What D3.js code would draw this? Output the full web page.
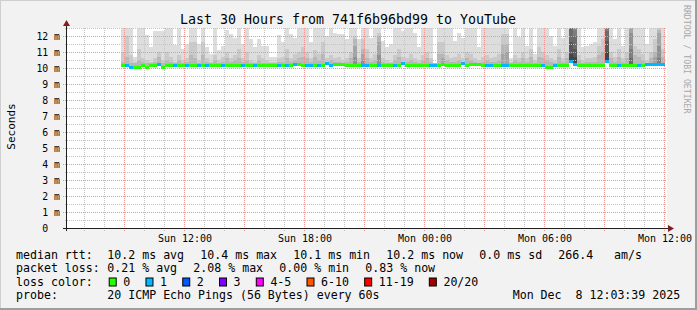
<!DOCTYPE html>
<html lang="en">
<head>
<meta charset="UTF-8">
<style>
  body { margin: 0; background: #f2f2f2; }
  svg { display: block; }
  text { font-family: "DejaVu Sans Mono", monospace; white-space: pre; }
</style>
</head>
<body>
<div id="chart"></div>
<script src="https://d3js.org/d3.v7.min.js"></script>
<script>

// ---- data (ms), one value per 12 minute column ----
var ping20 = [12.5,12.5,12.5,10.7,12.5,12.5,12.06,11.33,12.29,12.33,
  12.29,12.5,12.5,11.46,12.5,11.2,11.5,12.5,12.5,11.5,
  12.5,11.3,10.9,12.5,11.1,11.4,12.4,12.1,11.9,12.5,
  11.5,12.5,11.8,11.3,11.8,11.4,11.4,10.7,10.7,12.06,
  11.6,12.5,12.1,11.9,12.5,12.5,12.5,11.6,12.5,12.5,
  12.5,12.0,12.5,12.2,12.15,12.1,11.8,12.5,12.5,11.8,
  12.5,12.5,11.9,12.5,12.5,11.7,11.3,11.5,12.5,12.5,
  12.33,12.5,12.5,12.2,11.3,12.5,12.5,12.5,10.3,12.5,
  12.5,12.5,12.5,11.7,12.2,11.9,12.5,12.5,12.5,11.3,
  12.5,12.5,12.5,12.5,12.5,12.5,12.5,10.6,12.5,11.95,
  12.5,11.4,12.5,10.9,12.5,12.5,12.5,12.0,11.4,12.5,
  11.9,12.5,12.5,12.5,12.5,11.3,11.4,11.5,11.6,12.5,
  12.5,12.5,12.5,11.8,12.5,11.4,12.5,12.5,12.5,12.5,
  12.5,11.5,12.5,12.5,12.5,12.5];

var ping19 = [11.0,12.0,10.8,10.4,11.2,10.6,10.5,10.4,10.6,11.0,
  10.5,11.0,10.7,10.4,10.8,10.5,10.6,11.6,11.6,10.5,
  11.6,10.6,10.4,10.8,10.5,10.7,11.0,10.6,10.8,11.2,
  10.6,11.0,10.5,10.4,10.8,10.6,10.5,10.4,10.4,10.6,
  10.7,11.2,10.6,10.9,11.0,11.3,11.0,10.6,11.1,10.9,
  11.6,10.6,10.8,10.6,10.7,10.5,10.6,11.0,12.0,10.6,
  11.8,11.2,10.6,10.9,12.2,10.6,10.5,10.4,10.8,11.2,
  10.7,10.6,10.9,10.6,10.5,10.8,11.0,10.6,10.3,11.6,
  11.6,10.8,10.6,10.7,10.9,10.6,11.0,10.9,10.6,10.5,
  10.7,10.8,10.6,10.7,10.9,12.1,12.1,10.4,10.8,10.6,
  11.0,10.6,11.2,10.5,11.3,11.0,10.8,10.6,10.5,11.2,
  10.6,11.0,12.5,12.5,10.8,10.5,10.6,10.6,10.7,11.4,
  11.8,12.5,11.0,10.7,11.2,10.6,11.0,12.5,11.4,11.2,
  10.9,10.5,11.0,11.8,12.5,11.2];

var ping18 = [10.4,10.7,10.3,10.3,10.5,10.4,10.3,10.3,10.4,10.7,
  10.3,10.5,10.4,10.3,10.5,10.3,10.4,10.8,10.6,10.3,
  10.8,10.4,10.3,10.5,10.3,10.4,10.6,10.4,10.5,10.6,
  10.4,10.5,10.3,10.3,10.5,10.3,10.3,10.3,10.3,10.4,
  10.4,10.6,10.4,10.5,10.6,10.7,10.6,10.4,10.7,10.5,
  10.9,10.4,10.5,10.4,10.4,10.3,10.4,10.6,11.8,10.4,
  11.2,10.6,10.4,10.5,12.0,10.4,10.3,10.3,10.5,10.7,
  10.4,10.4,10.5,10.4,10.3,10.5,10.6,10.4,10.3,10.9,
  10.9,10.5,10.4,10.4,10.5,10.4,10.6,10.5,10.4,10.3,
  10.4,10.5,10.4,10.4,10.5,11.5,11.5,10.3,10.5,10.4,
  10.6,10.4,10.7,10.3,10.7,10.6,10.5,10.4,10.3,10.7,
  10.4,10.6,12.5,12.5,10.5,10.3,10.4,10.4,10.4,10.8,
  11.0,12.5,10.6,10.4,10.7,10.4,10.6,12.5,10.8,10.7,
  10.5,10.3,10.6,11.0,12.4,10.7];

// deeper smoke layers (ping 17, 16, 15, ...) for the few busy columns
var tail = [
  [58, 11.4, 10.7],
  [60, 10.9, 10.5],
  [64, 11.6, 10.8],
  [80, 10.6],
  [95, 10.9],
  [96, 11.0],
  [112, 12.5, 12.5, 12.5, 12.5, 11.6, 10.9],
  [113, 12.5, 12.5, 12.4, 12.0, 11.2, 10.7],
  [121, 12.5, 12.5, 12.5, 12.3, 11.7, 11.0],
  [127, 12.5, 12.2, 11.2, 10.6],
  [133, 10.7],
  [134, 12.2, 11.4, 10.6]
];

var median = [10.15,10.15,10.05,10.05,10.05,10.15,10.05,10.15,10.15,10.2,
  10.05,10.15,10.15,10.15,10.15,10.15,10.15,10.15,10.15,10.15,
  10.15,10.15,10.15,10.15,10.15,10.15,10.15,10.15,10.15,10.15,
  10.15,10.15,10.15,10.15,10.15,10.15,10.15,10.15,10.15,10.15,
  10.15,10.15,10.15,10.25,10.25,10.15,10.15,10.15,10.15,10.15,
  10.15,10.28,10.15,10.22,10.22,10.22,10.15,10.15,10.15,10.15,
  10.15,10.15,10.15,10.15,10.15,10.15,10.15,10.15,10.15,10.15,
  10.3,10.15,10.15,10.15,10.15,10.15,10.15,10.15,10.15,10.15,
  10.25,10.15,10.15,10.15,10.15,10.3,10.15,10.22,10.22,10.22,
  10.15,10.15,10.15,10.15,10.15,10.15,10.15,10.15,10.15,10.15,
  10.15,10.15,10.15,10.15,10.15,10.15,10.02,10.02,10.15,10.15,
  10.15,10.15,10.42,10.2,10.15,10.15,10.15,10.15,10.15,10.15,
  10.15,10.42,10.15,10.15,10.15,10.15,10.15,10.15,10.15,10.15,
  10.15,10.25,10.25,10.25,10.25,10.25];

var loss = [0,1,1,0,0,0,0,0,0,1, 0,0,0,1,0,0,1,0,0,1,
  0,1,0,0,0,1,0,0,0,0, 1,0,0,1,0,0,0,0,0,1,
  0,1,0,1,0,0,1,1,0,1, 0,1,1,0,0,0,0,0,0,0,
  1,1,0,0,1,0,0,0,1,0, 1,0,0,0,0,0,0,1,1,0,
  0,0,0,0,0,1,0,0,0,0, 0,1,1,0,0,1,1,0,0,0,
  0,0,0,0,0,1,0,0,1,0, 0,0,1,1,0,0,0,0,0,0,
  0,1,0,0,1,0,0,0,0,1, 0,1,1,1,1,1];

var lossLabels = ["0", "1", "2", "3", "4-5", "6-10", "11-19", "20/20"];
var lossColors = ["#26ff00", "#00b8ff", "#0059ff", "#7e00ff", "#ff00ff", "#ff5500", "#ff0000", "#a10000"];

var rttStats = ["10.2 ms avg", "10.4 ms max", "10.1 ms min", "10.2 ms now", "0.0 ms sd", "266.4", "am/s"];
var lossStats = ["0.21 % avg", "2.08 % max", "0.00 % min", "0.83 % now"];

var title = "Last 30 Hours from 741f6b96bd99 to YouTube";
var probeText = "20 ICMP Echo Pings (56 Bytes) every 60s";
var stamp = "Mon Dec  8 12:03:39 2025";

// ---- layout ----
var W = 697, H = 310;
var pLeft = 67, pRight = 667, pTop = 28, pBottom = 228;
var colMinutes = 12;
var firstCol = new Date(2025, 11, 7, 8, 48);
var tStart = new Date(2025, 11, 7, 6, 6), tEnd = new Date(2025, 11, 8, 12, 6);
var charW = 6.97;

var x = d3.scaleTime().domain([tStart, tEnd]).range([pLeft, pRight]);
var y = d3.scaleLinear().domain([0, 12.5]).range([pBottom, pTop]);

var gray = function (i) { var v = 221 - 19 * i; return d3.rgb(v, v, v).formatHex(); };

var svg = d3.select("#chart").append("svg")
  .attr("width", W).attr("height", H);

// frame
svg.append("rect").attr("width", W).attr("height", H).attr("fill", "#f2f2f2");
svg.append("rect").attr("x", 0).attr("y", 0).attr("width", W).attr("height", 1).attr("fill", "#cfcfcf");
svg.append("rect").attr("x", 0).attr("y", 0).attr("width", 1).attr("height", H).attr("fill", "#cfcfcf");
svg.append("rect").attr("x", 0).attr("y", H - 2).attr("width", W).attr("height", 2).attr("fill", "#9e9e9e");
svg.append("rect").attr("x", W - 2).attr("y", 0).attr("width", 2).attr("height", H).attr("fill", "#9e9e9e");

// canvas
svg.append("rect").attr("x", pLeft).attr("y", pTop).attr("width", pRight - pLeft).attr("height", pBottom - pTop)
  .attr("fill", "#ffffff");

// smoke
var cols = ping20.map(function (d, i) {
  var t0 = d3.timeMinute.offset(firstCol, i * colMinutes);
  var t1 = d3.timeMinute.offset(firstCol, (i + 1) * colMinutes);
  var layers = [ping20[i], ping19[i], ping18[i]];
  tail.forEach(function (r) { if (r[0] === i) layers = layers.concat(r.slice(1)); });
  return { i: i, x0: x(t0), x1: x(t1), layers: layers, med: median[i], loss: loss[i] };
});

var smoke = svg.append("g").attr("shape-rendering", "crispEdges");
cols.forEach(function (c) {
  c.layers.forEach(function (v, li) {
    smoke.append("rect")
      .attr("x", c.x0).attr("width", c.x1 - c.x0)
      .attr("y", y(v)).attr("height", y(c.med) - y(v))
      .attr("fill", gray(li));
  });
});

// grid
var grid = svg.append("g").attr("fill", "none").attr("stroke-width", 1).attr("stroke-dasharray", "1,1");
var minorY = d3.range(0.5, 12.51, 1);
var majorY = d3.range(0, 12.01, 1);
grid.selectAll(".hmin").data(minorY).enter().append("line")
  .attr("x1", pLeft - 2).attr("x2", pRight)
  .attr("y1", function (d) { return Math.round(y(d)) + 0.5; })
  .attr("y2", function (d) { return Math.round(y(d)) + 0.5; })
  .attr("stroke", "#c4c4c4");
grid.selectAll(".hmaj").data(majorY.slice(1)).enter().append("line")
  .attr("x1", pLeft - 4).attr("x2", pRight)
  .attr("y1", function (d) { return Math.round(y(d)) + 0.5; })
  .attr("y2", function (d) { return Math.round(y(d)) + 0.5; })
  .attr("stroke", "#eb9595");

var hours = d3.timeHour.range(tStart, tEnd);
grid.selectAll(".v").data(hours).enter().append("line")
  .attr("x1", function (d) { return Math.round(x(d)) - 0.5; })
  .attr("x2", function (d) { return Math.round(x(d)) - 0.5; })
  .attr("y1", pTop).attr("y2", function (d) { return d.getHours() % 3 === 0 ? pBottom + 4 : pBottom + 3; })
  .attr("stroke", function (d) { return d.getHours() % 3 === 0 ? "#eb9595" : "#c4c4c4"; });

// median line coloured by loss
svg.append("g").attr("shape-rendering", "crispEdges").selectAll("rect").data(cols).enter().append("rect")
  .attr("x", function (d) { return d.x0; })
  .attr("width", function (d) { return d.x1 - d.x0; })
  .attr("y", function (d) { return y(d.med) - 1.5; })
  .attr("height", 3)
  .attr("fill", function (d) { return lossColors[d.loss]; });

// axes
var axisCol = "#1f1f1f", arrowCol = "#801f1f";
svg.append("line").attr("x1", pLeft - 4).attr("x2", pRight + 2)
  .attr("y1", pBottom + 0.5).attr("y2", pBottom + 0.5).attr("stroke", axisCol);
svg.append("line").attr("x1", pLeft - 0.5).attr("x2", pLeft - 0.5)
  .attr("y1", pBottom + 3).attr("y2", pTop - 3).attr("stroke", axisCol);
svg.append("path").attr("d", "M" + (pRight + 1) + "," + (pBottom - 3) + "L" + (pRight + 7) + "," + (pBottom + 0.5) + "L" + (pRight + 1) + "," + (pBottom + 4) + "Z")
  .attr("fill", arrowCol);
svg.append("path").attr("d", "M" + (pLeft - 4) + "," + (pTop - 2) + "L" + (pLeft - 0.5) + "," + (pTop - 8) + "L" + (pLeft + 3) + "," + (pTop - 2) + "Z")
  .attr("fill", arrowCol);

// y labels
svg.append("g").selectAll("text").data(majorY).enter().append("text")
  .attr("x", 60).attr("y", function (d) { return y(d); }).attr("dy", "0.36em")
  .attr("text-anchor", "end").attr("font-size", "9.8px").attr("fill", "#000")
  .text(function (d) { return d === 0 ? "0  " : d + " m"; });

// x labels
var fmt = d3.timeFormat("%a %H:%M");
svg.append("g").selectAll("text").data(d3.timeHour.every(6).range(tStart, tEnd)).enter().append("text")
  .attr("x", function (d) { return x(d); }).attr("y", 241.5)
  .attr("text-anchor", "middle").attr("font-size", "10px").attr("fill", "#000")
  .text(fmt);

// title
svg.append("text").attr("x", 348).attr("y", 24).attr("text-anchor", "middle")
  .attr("font-size", "13.3px").attr("fill", "#000").text(title);

svg.append("text").attr("transform", "translate(15,126.5) rotate(-90)")
  .attr("text-anchor", "middle").attr("font-size", "11px").attr("fill", "#000").text("Seconds");

svg.append("text").attr("transform", "translate(684,5) rotate(90)")
  .attr("text-anchor", "start").attr("font-size", "8.2px").attr("fill", "#a8a8a8")
  .text("RRDTOOL / TOBI OETIKER");

// legend
var lg = svg.append("g").attr("font-size", "11.6px").attr("fill", "#000");
var rttX = [107.3, 200.3, 293.3, 386.3, 479.3, 558.3, 614];
var lossX = [107.3, 193.3, 279.3, 365.3];
var rowY = [258.5, 272, 285.5, 299];

lg.append("text").attr("x", 16).attr("y", rowY[0]).text("median rtt:");
rttStats.forEach(function (s, i) { lg.append("text").attr("x", rttX[i]).attr("y", rowY[0]).text(s); });

lg.append("text").attr("x", 16).attr("y", rowY[1]).text("packet loss:");
lossStats.forEach(function (s, i) { lg.append("text").attr("x", lossX[i]).attr("y", rowY[1]).text(s); });

lg.append("text").attr("x", 16).attr("y", rowY[2]).text("loss color:");
var bx = 108.7;
lossLabels.forEach(function (l, i) {
  lg.append("rect").attr("x", bx + 0.5).attr("y", rowY[2] - 7.5).attr("width", 7).attr("height", 8)
    .attr("fill", lossColors[i]).attr("stroke", "#000").attr("stroke-width", 1);
  lg.append("text").attr("x", bx + 14.6).attr("y", rowY[2]).text(l);
  bx += 29.8 + charW * l.length;
});

lg.append("text").attr("x", 16).attr("y", rowY[3]).text("probe:");
lg.append("text").attr("x", 107.3).attr("y", rowY[3]).text(probeText);
lg.append("text").attr("x", 512.7).attr("y", rowY[3]).text(stamp);

</script>
</body>
</html>
